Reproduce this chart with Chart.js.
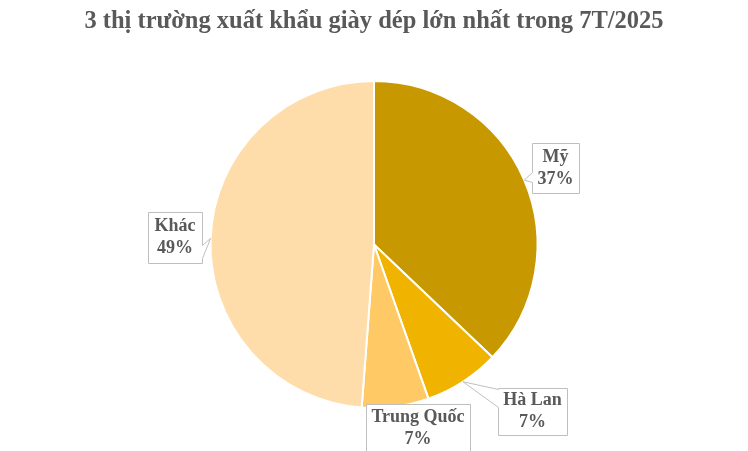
<!DOCTYPE html>
<html>
<head>
<meta charset="utf-8">
<script src="https://cdn.jsdelivr.net/npm/chart.js@4/dist/chart.umd.min.js"></script>
<style>
html,body{margin:0;padding:0;background:#fff;}
#wrap{width:748px;height:451px;position:relative;}
</style>
</head>
<body>
<div id="wrap"><canvas id="c" width="748" height="451"></canvas></div>
<script>
const chartTitle = "3 thị trường xuất khẩu giày dép lớn nhất trong 7T/2025";
const categories = ["Mỹ", "Hà Lan", "Trung Quốc", "Khác"];
const values = [37.1, 7.5, 6.6, 48.8];
const percentLabels = ["37%", "7%", "7%", "49%"];
const colors = ["#C89800", "#F0B300", "#FFC966", "#FFDDAA"];

// label box layout
const boxLayout = [
  {x:532, y:143, w:47, h:50, side:"left", a:172, b:182, pointer:true},
  {x:498, y:388, w:69, h:47, side:"left", a:389, b:407, pointer:true},
  {x:366, y:404, w:104, h:48, side:"none", pointer:false},
  {x:148, y:212, w:54, h:51, side:"right", a:245, b:258, pointer:true}
];

const calloutPlugin = {
  id: 'callouts',
  afterDraw(chart) {
    const ctx = chart.ctx;
    ctx.save();
    ctx.fillStyle = "#595959";
    ctx.font = "bold 24.5px 'Liberation Serif', 'Times New Roman', serif";
    ctx.textAlign = "center";
    ctx.textBaseline = "middle";
    ctx.fillText(chartTitle, 374, 22);

    const meta = chart.getDatasetMeta(0);
    meta.data.forEach((arc, i) => {
      const p = arc.getProps(['x','y','startAngle','endAngle','outerRadius'], true);
      const mid = (p.startAngle + p.endAngle) / 2;
      const tx = p.x + Math.cos(mid) * p.outerRadius;
      const ty = p.y + Math.sin(mid) * p.outerRadius;
      const b = boxLayout[i];
      const L = b.x + 0.5, T = b.y + 0.5, R = b.x + b.w + 0.5, B = b.y + b.h + 0.5;
      ctx.beginPath();
      ctx.moveTo(L, T);
      ctx.lineTo(R, T);
      if (b.pointer && b.side === "right") {
        ctx.lineTo(R, b.a + 0.5);
        ctx.lineTo(tx, ty);
        ctx.lineTo(R, b.b + 0.5);
      }
      ctx.lineTo(R, B);
      ctx.lineTo(L, B);
      if (b.pointer && b.side === "left") {
        ctx.lineTo(L, b.b + 0.5);
        ctx.lineTo(tx, ty);
        ctx.lineTo(L, b.a + 0.5);
      }
      ctx.closePath();
      ctx.fillStyle = "#ffffff";
      ctx.fill();
      ctx.strokeStyle = "#BFBFBF";
      ctx.lineWidth = 1;
      ctx.stroke();

      ctx.fillStyle = "#595959";
      ctx.font = "bold 18px 'Liberation Serif', 'Times New Roman', serif";
      ctx.textAlign = "center";
      ctx.textBaseline = "middle";
      const cx = b.x + b.w / 2;
      const cy = b.y + b.h / 2;
      ctx.fillText(categories[i], cx, cy - 11);
      ctx.fillText(percentLabels[i], cx, cy + 11);
    });
    ctx.restore();
  }
};

new Chart(document.getElementById('c'), {
  type: 'pie',
  data: {
    labels: categories,
    datasets: [{
      data: values,
      backgroundColor: colors,
      borderColor: "#ffffff",
      borderWidth: 2,
      hoverOffset: 0
    }]
  },
  options: {
    responsive: false,
    animation: false,
    events: [],
    layout: { padding: { top: 80, bottom: 42, left: 0, right: 0 } },
    plugins: {
      legend: { display: false },
      title: { display: false },
      tooltip: { enabled: false }
    }
  },
  plugins: [calloutPlugin]
});
</script>
</body>
</html>
